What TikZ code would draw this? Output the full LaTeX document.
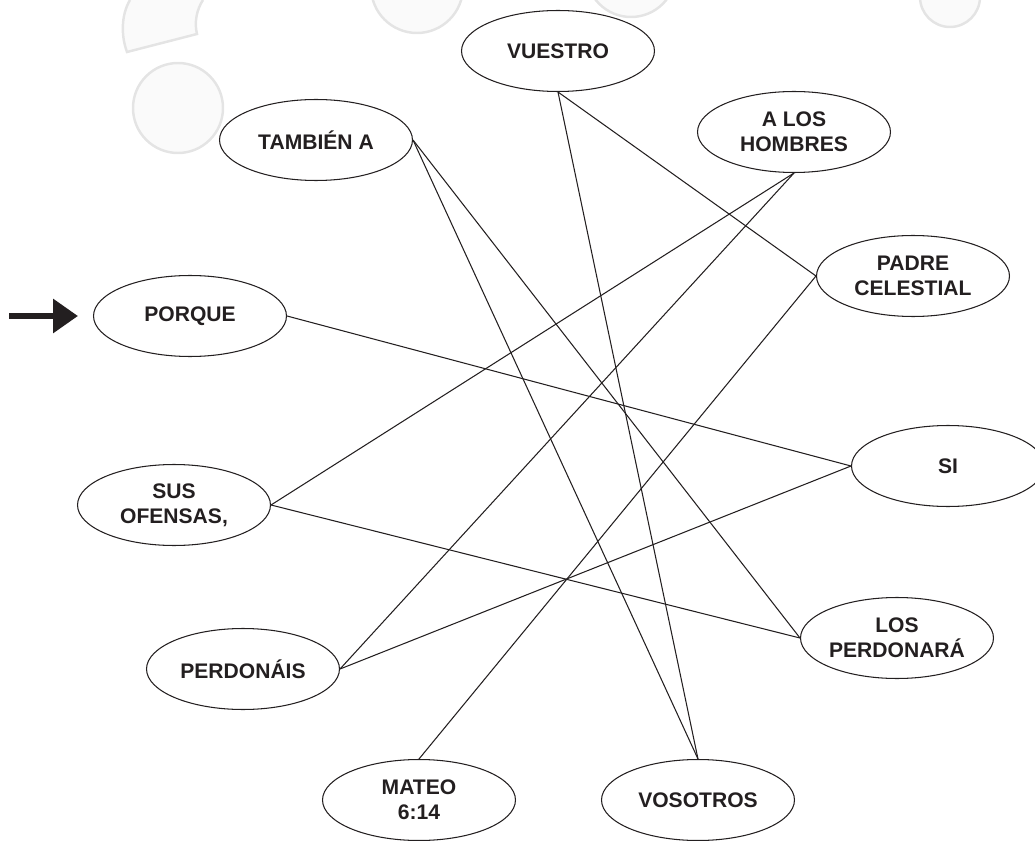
\documentclass[tikz,border=0pt]{standalone}
\usepackage{fontspec}
\setmainfont{Liberation Sans}
\usetikzlibrary{shapes.geometric,arrows.meta}
\definecolor{ink}{HTML}{231F20}
\definecolor{faint}{HTML}{E4E4E4}

\begin{document}
\begin{tikzpicture}[
    x=0.02cm, y=-0.02cm,
    word/.style={
        ellipse,
        draw=ink,
        line width=0.6pt,
        minimum width=3.86cm,
        minimum height=1.62cm,
        inner sep=0pt,
        align=center,
        text=ink,
        font=\bfseries\fontsize{12}{14}\selectfont
    },
    link/.style={draw=ink, line width=0.6pt},
    ghost/.style={draw=faint, line width=1.4pt, fill=black!2}
]

\useasboundingbox (0,0) rectangle (1035,841);

% Faint background marks
\draw[ghost] (130,0) .. controls (121,15) and (121,36) .. (127,52)
    -- (197,34) .. controls (194,22) and (197,9) .. (203,0);
\draw[ghost] (178,108) circle[radius=45];
\draw[ghost] (417,-13) circle[radius=46];
\draw[ghost] (631,-28) circle[radius=45];
\draw[ghost] (950,-3) circle[radius=30];

\node[word] (tambien) at (316,140) {TAMBIÉN A};
\node[word] (vuestro) at (558,51) {VUESTRO};
\node[word] (hombres) at (794,132) {A LOS\\HOMBRES};
\node[word] (padre) at (913,276) {PADRE\\CELESTIAL};
\node[word] (porque) at (190,316) {PORQUE};
\node[word] (si) at (948,466) {SI};
\node[word] (ofensas) at (174,505) {SUS\\OFENSAS,};
\node[word] (perdonara) at (897,638) {LOS\\PERDONARÁ};
\node[word] (perdonais) at (243,669) {PERDONÁIS};
\node[word] (mateo) at (419,800) {MATEO\\6:14};
\node[word] (vosotros) at (698,800) {VOSOTROS};

\draw[link] (vuestro.south) -- (vosotros.north);
\draw[link] (vuestro.south) -- (padre.west);
\draw[link] (tambien.east) -- (vosotros.north);
\draw[link] (tambien.east) -- (perdonara.west);
\draw[link] (hombres.south) -- (ofensas.east);
\draw[link] (hombres.south) -- (perdonais.east);
\draw[link] (padre.west) -- (mateo.north);
\draw[link] (porque.east) -- (si.west);
\draw[link] (ofensas.east) -- (perdonara.west);
\draw[link] (perdonais.east) -- (si.west);

% Start marker
\coordinate (start) at (9,316);
\draw[ink, line width=0.14cm, -{Triangle[length=0.5cm,width=0.66cm]},
    shorten >=0.3cm] (start) -- (porque.west);

\end{tikzpicture}
\end{document}
